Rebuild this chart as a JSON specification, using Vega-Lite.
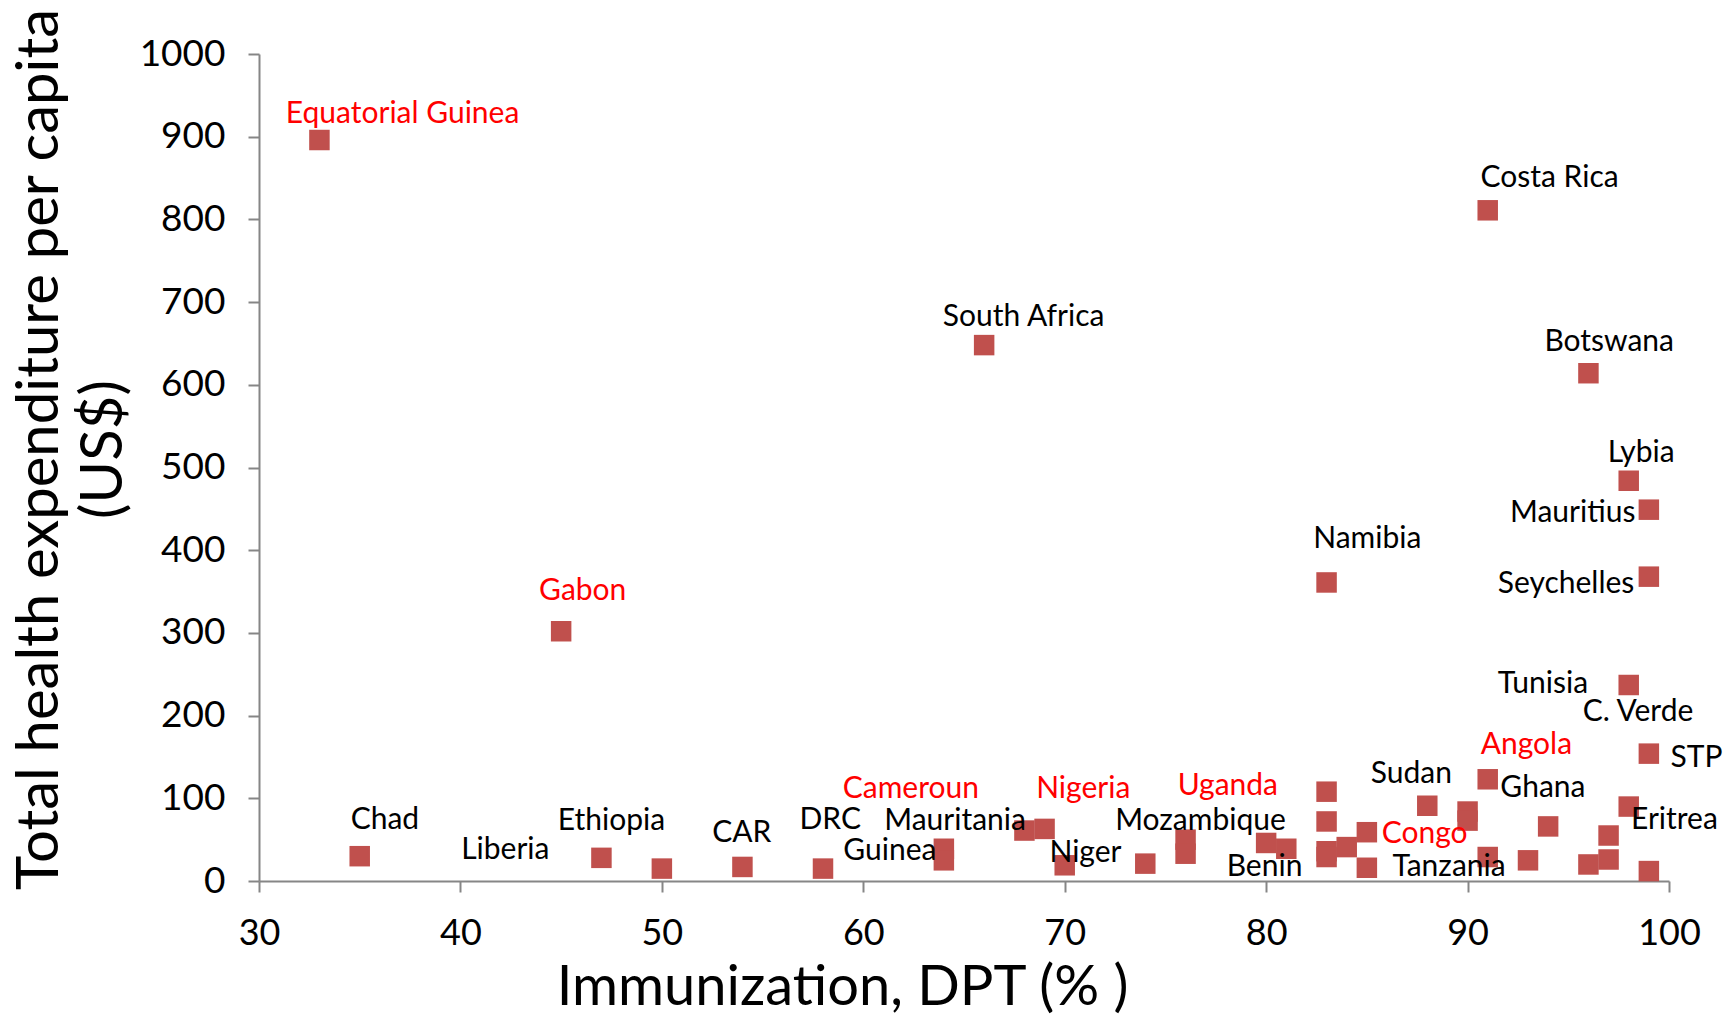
{
  "$schema": "https://vega.github.io/schema/vega-lite/v6.json",
  "width": 1410,
  "height": 827,
  "autosize": {"type": "none"},
  "padding": {"left": 259, "top": 54, "right": 62, "bottom": 135},
  "background": "white",
  "config": {"view": {"stroke": null}, "font": "Lato"},
  "datasets": {
    "points": [
      {"dpt": 33, "spend": 896}, {"dpt": 91, "spend": 811}, {"dpt": 66, "spend": 648},
      {"dpt": 96, "spend": 614}, {"dpt": 98, "spend": 484}, {"dpt": 99, "spend": 449},
      {"dpt": 83, "spend": 361}, {"dpt": 99, "spend": 368}, {"dpt": 45, "spend": 302},
      {"dpt": 98, "spend": 237}, {"dpt": 99, "spend": 154}, {"dpt": 91, "spend": 123},
      {"dpt": 83, "spend": 108}, {"dpt": 88, "spend": 91}, {"dpt": 98, "spend": 90},
      {"dpt": 90, "spend": 84}, {"dpt": 90, "spend": 73}, {"dpt": 83, "spend": 72},
      {"dpt": 94, "spend": 66}, {"dpt": 69, "spend": 63}, {"dpt": 68, "spend": 61},
      {"dpt": 85, "spend": 59}, {"dpt": 97, "spend": 55}, {"dpt": 76, "spend": 50},
      {"dpt": 76, "spend": 33}, {"dpt": 80, "spend": 46}, {"dpt": 84, "spend": 41},
      {"dpt": 81, "spend": 39}, {"dpt": 64, "spend": 39}, {"dpt": 64, "spend": 25},
      {"dpt": 83, "spend": 36}, {"dpt": 83, "spend": 29}, {"dpt": 91, "spend": 29},
      {"dpt": 93, "spend": 25}, {"dpt": 97, "spend": 26}, {"dpt": 96, "spend": 20},
      {"dpt": 74, "spend": 21}, {"dpt": 70, "spend": 19}, {"dpt": 54, "spend": 17},
      {"dpt": 50, "spend": 15}, {"dpt": 58, "spend": 15}, {"dpt": 85, "spend": 16},
      {"dpt": 99, "spend": 12}, {"dpt": 35, "spend": 30}, {"dpt": 47, "spend": 28}
    ],
    "labels": [
      {"name": "Equatorial Guinea", "lx": 37.13, "ly": 930, "group": "highlight"},
      {"name": "Costa Rica", "lx": 94.07, "ly": 852, "group": "other"},
      {"name": "South Africa", "lx": 67.96, "ly": 684, "group": "other"},
      {"name": "Botswana", "lx": 97.03, "ly": 654, "group": "other"},
      {"name": "Lybia", "lx": 98.62, "ly": 520, "group": "other"},
      {"name": "Mauritius", "lx": 95.22, "ly": 447, "group": "other"},
      {"name": "Namibia", "lx": 85.02, "ly": 416, "group": "other"},
      {"name": "Seychelles", "lx": 94.89, "ly": 361, "group": "other"},
      {"name": "Gabon", "lx": 46.07, "ly": 353, "group": "highlight"},
      {"name": "Tunisia", "lx": 93.74, "ly": 241, "group": "other"},
      {"name": "C. Verde", "lx": 98.46, "ly": 207, "group": "other"},
      {"name": "STP", "lx": 101.37, "ly": 151, "group": "other"},
      {"name": "Angola", "lx": 92.92, "ly": 167, "group": "highlight"},
      {"name": "Sudan", "lx": 87.21, "ly": 132, "group": "other"},
      {"name": "Ghana", "lx": 93.74, "ly": 115, "group": "other"},
      {"name": "Eritrea", "lx": 100.27, "ly": 76, "group": "other"},
      {"name": "Cameroun", "lx": 62.36, "ly": 114, "group": "highlight"},
      {"name": "Nigeria", "lx": 70.92, "ly": 114, "group": "highlight"},
      {"name": "Uganda", "lx": 78.1, "ly": 117, "group": "highlight"},
      {"name": "Mozambique", "lx": 76.74, "ly": 75, "group": "other"},
      {"name": "Congo", "lx": 87.87, "ly": 59, "group": "highlight"},
      {"name": "Mauritania", "lx": 64.56, "ly": 75, "group": "other"},
      {"name": "DRC", "lx": 58.36, "ly": 76, "group": "other"},
      {"name": "Guinea", "lx": 61.32, "ly": 39, "group": "other"},
      {"name": "Niger", "lx": 71.03, "ly": 36, "group": "other"},
      {"name": "Benin", "lx": 79.92, "ly": 19, "group": "other"},
      {"name": "Tanzania", "lx": 89.08, "ly": 19, "group": "other"},
      {"name": "Chad", "lx": 36.25, "ly": 76, "group": "other"},
      {"name": "Liberia", "lx": 42.23, "ly": 40, "group": "other"},
      {"name": "Ethiopia", "lx": 47.5, "ly": 75, "group": "other"},
      {"name": "CAR", "lx": 53.97, "ly": 60, "group": "other"}
    ]
  },
  "layer": [
    {
      "data": {"name": "points"},
      "mark": {"type": "point", "shape": "square", "filled": true, "size": 420, "opacity": 1, "color": "#C0504D", "clip": false},
      "encoding": {
        "x": {
          "field": "dpt", "type": "quantitative",
          "scale": {"domain": [30, 100], "nice": false, "zero": false},
          "axis": {
            "title": "Immunization, DPT (% )",
            "values": [30, 40, 50, 60, 70, 80, 90, 100],
            "grid": false,
            "domainColor": "#868686", "domainWidth": 2,
            "tickColor": "#868686", "tickWidth": 2, "tickSize": 11,
            "labelFont": "Lato", "labelFontSize": 36, "labelColor": "#000000",
            "labelPadding": 24, "labelFlush": false, "labelOverlap": false,
            "titleFont": "Lato", "titleFontSize": 56, "titleFontWeight": "normal", "titleColor": "#000000",
            "titleX": 583, "titleY": 123, "titleBaseline": "alphabetic", "titleAnchor": null, "titleAlign": "center"
          }
        },
        "y": {
          "field": "spend", "type": "quantitative",
          "scale": {"domain": [0, 1000], "nice": false},
          "axis": {
            "title": ["Total health expenditure per capita", "(US$)"],
            "values": [0, 100, 200, 300, 400, 500, 600, 700, 800, 900, 1000],
            "format": "d",
            "grid": false,
            "domainColor": "#868686", "domainWidth": 2,
            "tickColor": "#868686", "tickWidth": 2, "tickSize": 11,
            "labelFont": "Lato", "labelFontSize": 37, "labelColor": "#000000",
            "labelPadding": 23, "labelFlush": false, "labelOverlap": false,
            "titleFont": "Lato", "titleFontSize": 58, "titleFontWeight": "normal", "titleColor": "#000000",
            "titleLineHeight": 64,
            "titleX": -202, "titleY": 395, "titleBaseline": "alphabetic", "titleAlign": "center", "titleAngle": -90
          }
        }
      }
    },
    {
      "data": {"name": "labels"},
      "mark": {"type": "text", "align": "center", "baseline": "middle", "font": "Lato", "fontSize": 30, "dy": 2, "clip": false},
      "encoding": {
        "x": {"field": "lx", "type": "quantitative"},
        "y": {"field": "ly", "type": "quantitative"},
        "text": {"field": "name"},
        "color": {
          "field": "group", "type": "nominal",
          "scale": {"domain": ["highlight", "other"], "range": ["#FF0000", "#000000"]},
          "legend": null
        }
      }
    }
  ]
}
